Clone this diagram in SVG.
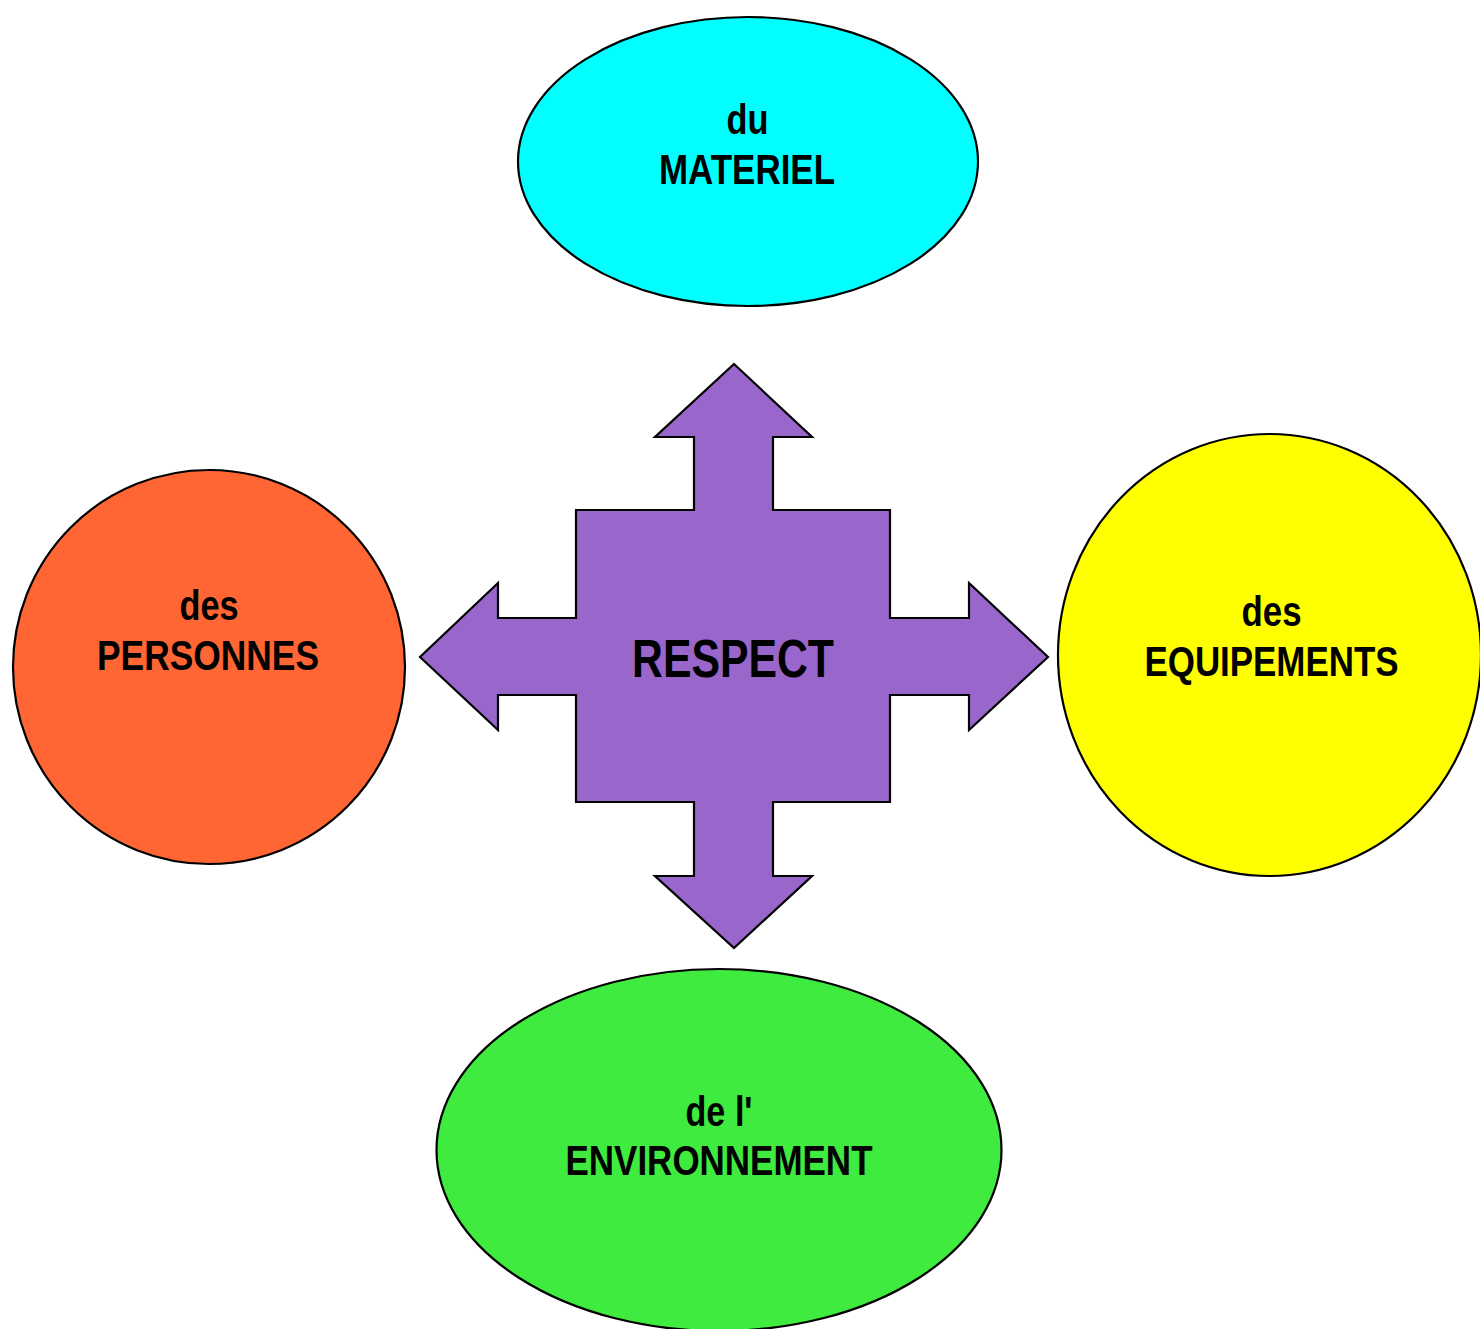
<svg xmlns="http://www.w3.org/2000/svg" width="1480" height="1329" viewBox="0 0 1480 1329">
<style>
.shape{stroke:#000;stroke-width:2.2}
.t{font-family:"Liberation Sans Narrow","Arial Narrow","Liberation Sans",Arial,sans-serif;font-weight:bold;font-size:42px;fill:#000;text-anchor:middle}
.big{font-size:53px}
</style>
<rect width="1480" height="1329" fill="#fff"/>
<g id="node-materiel">
<ellipse class="shape" cx="748" cy="161.5" rx="230" ry="144.5" fill="#00FFFF"/>
<text class="t" x="747.5" y="134" textLength="42" lengthAdjust="spacingAndGlyphs">du</text>
<text class="t" x="747" y="184" textLength="176" lengthAdjust="spacingAndGlyphs">MATERIEL</text>
</g>
<g id="node-personnes">
<ellipse class="shape" cx="209" cy="667" rx="196" ry="197" fill="#FF6633"/>
<text class="t" x="209" y="620" textLength="59" lengthAdjust="spacingAndGlyphs">des</text>
<text class="t" x="208" y="670" textLength="222" lengthAdjust="spacingAndGlyphs">PERSONNES</text>
</g>
<g id="node-equipements">
<ellipse class="shape" cx="1269.5" cy="655" rx="211.5" ry="221" fill="#FFFF00"/>
<text class="t" x="1271.5" y="626" textLength="60" lengthAdjust="spacingAndGlyphs">des</text>
<text class="t" x="1271.5" y="676" textLength="254" lengthAdjust="spacingAndGlyphs">EQUIPEMENTS</text>
</g>
<g id="node-environnement">
<ellipse class="shape" cx="719" cy="1150" rx="282.5" ry="181" fill="#3EEB3E"/>
<text class="t" x="719" y="1126" textLength="67" lengthAdjust="spacingAndGlyphs">de l'</text>
<text class="t" x="719" y="1175" textLength="307" lengthAdjust="spacingAndGlyphs">ENVIRONNEMENT</text>
</g>
<g id="node-respect">
<polygon class="shape" fill="#9966CC" points="734,364 812,437 773,437 773,510 890,510 890,618 969,618 969,583 1048,657 969,730 969,695 890,695 890,802 773,802 773,876 812,876 734,948 655,876 694,876 694,802 576,802 576,695 498,695 498,730 420,657 498,583 498,618 576,618 576,510 694,510 694,437 655,437"/>
<text class="t big" x="733" y="677" textLength="202" lengthAdjust="spacingAndGlyphs">RESPECT</text>
</g>
</svg>
